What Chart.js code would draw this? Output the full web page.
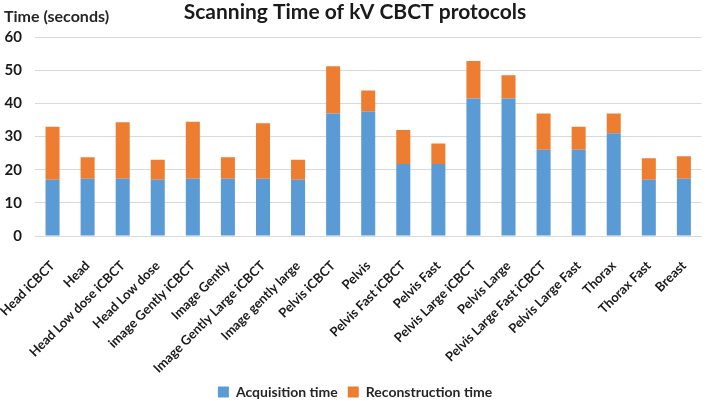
<!DOCTYPE html>
<html><head><meta charset="utf-8">
<script src="https://cdn.jsdelivr.net/npm/chart.js@4.4.0/dist/chart.umd.min.js"></script>
<style>html,body{margin:0;padding:0;background:#fff}#c{display:block}</style>
</head><body>
<canvas id="c" width="709" height="401"></canvas>
<script>
const categories = ["Head iCBCT","Head","Head Low dose iCBCT","Head Low dose","image Gently iCBCT","Image Gently","Image Gently Large iCBCT","Image gently large","Pelvis iCBCT","Pelvis","Pelvis Fast iCBCT","Pelvis Fast","Pelvis Large iCBCT","Pelvis Large","Pelvis Large Fast iCBCT","Pelvis Large Fast","Thorax","Thorax Fast","Breast"];
const acquisition = [17,17.3,17.3,17,17.3,17.3,17.3,17,37,37.5,21.7,21.7,41.5,41.5,26,26,31,17,17.3];
const reconstruction = [16,6.5,17,6,17.2,6.5,16.7,6,14.2,6.4,10.3,6.2,11.3,7,11,7,6,6.5,6.8];
const yTicks = [0,10,20,30,40,50,60];
const FONT = "Lato, 'Open Sans', sans-serif";

const yTitlePlugin = {
  id: 'yTitle',
  afterDraw(chart) {
    const ctx = chart.ctx;
    ctx.save();
    ctx.font = "bold 16px " + FONT;
    ctx.fillStyle = "#262626";
    ctx.textBaseline = "middle";
    ctx.textAlign = "left";
    ctx.fillText("Time (seconds)", 4, 17);
    ctx.restore();
  }
};

new Chart(document.getElementById('c'), {
  type: 'bar',
  data: {
    labels: categories,
    datasets: [
      {label: 'Acquisition time', data: acquisition, backgroundColor: '#5b9bd5', barPercentage: 0.4, categoryPercentage: 1.0},
      {label: 'Reconstruction time', data: reconstruction, backgroundColor: '#ed7d31', barPercentage: 0.4, categoryPercentage: 1.0}
    ]
  },
  options: {
    responsive: false,
    devicePixelRatio: 1,
    animation: false,
    layout: {padding: {left: 4, right: 3, top: 0, bottom: -8}},
    plugins: {
      title: {display: true, text: 'Scanning Time of kV CBCT protocols', font: {family: FONT, size: 21, weight: 'bold'}, color: '#1a1a1a', padding: {top: 0, bottom: 12}},
      legend: {position: 'bottom', labels: {font: {family: FONT, size: 14, weight: 'bold'}, color: '#262626', boxWidth: 11, boxHeight: 11, padding: 10}},
      tooltip: {enabled: false}
    },
    scales: {
      x: {
        stacked: true,
        grid: {display: false},
        border: {display: true, color: '#d9d9d9'},
        afterFit(axis) { axis.height = 139; axis.paddingLeft = 0; },
        ticks: {font: {family: FONT, size: 13, weight: 'bold'}, color: '#1a1a1a', maxRotation: 45, minRotation: 45, autoSkip: false, padding: 14}
      },
      y: {
        stacked: true,
        min: 0, max: 60,
        afterBuildTicks(axis) { axis.ticks = yTicks.map(v => ({value: v})); },
        afterFit(axis) { axis.width = 31; },
        grid: {color: '#d9d9d9', drawTicks: false},
        border: {display: false},
        ticks: {font: {family: FONT, size: 15, weight: 'bold'}, color: '#1a1a1a', padding: 13}
      }
    }
  },
  plugins: [yTitlePlugin]
});
</script>
</body></html>
